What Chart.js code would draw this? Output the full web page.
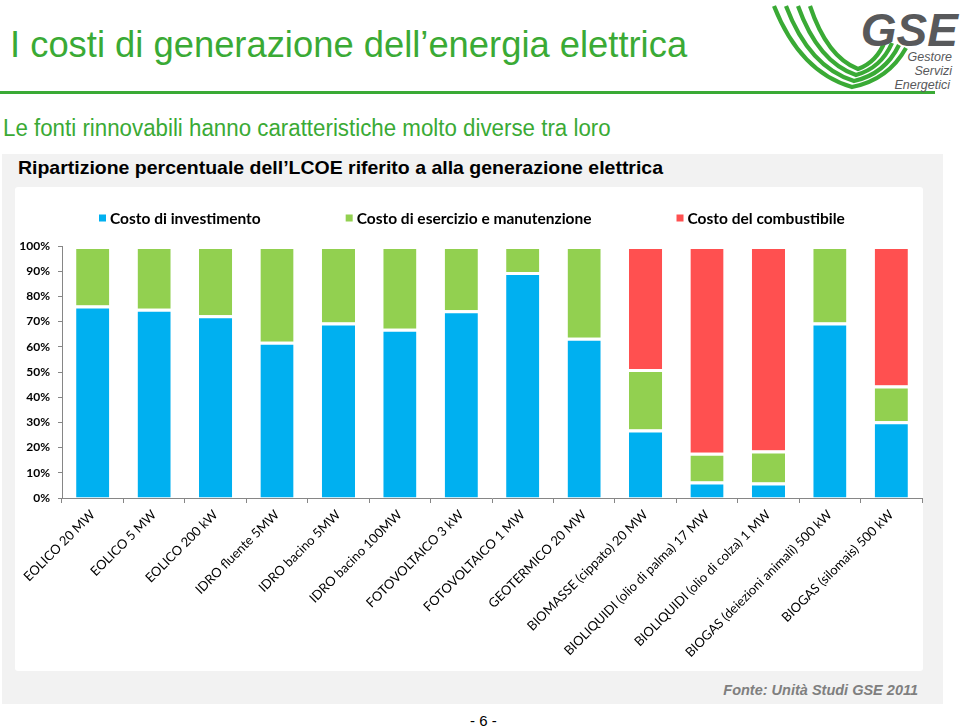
<!DOCTYPE html>
<html>
<head>
<meta charset="utf-8">
<script src="https://cdn.jsdelivr.net/npm/chart.js@4/dist/chart.umd.min.js"></script>
<style>
  html, body { margin: 0; padding: 0; background: #fff; width: 960px; height: 726px; overflow: hidden; position: relative; font-family: "Liberation Sans", Arial, sans-serif; }
  .abs { position: absolute; white-space: nowrap; line-height: 1; transform-origin: 0 0; }
  #title { left: 10px; top: 27px; font-size: 36px; color: #3aaa35; transform: scaleX(1.01); }
  #rule { left: 0; top: 91px; width: 935px; height: 3px; background: #3aaa35; }
  #sub { left: 3px; top: 117px; font-size: 23px; color: #3aaa35; transform: scaleX(0.97); }
  #panel { left: 2px; top: 154px; width: 941px; height: 550px; background: #f2f2f2; }
  #head { left: 18px; top: 158px; font-size: 19px; font-weight: bold; color: #000; transform: scaleX(1.025); }
  #white { left: 15px; top: 187px; width: 908px; height: 484px; background: #fff; border-radius: 3px; }
  #wrap { left: 15px; top: 187px; width: 908px; height: 484px; }
  #fonte { right: 42px; top: 683px; font-size: 14.5px; font-weight: bold; font-style: italic; color: #7f7f7f; }
  #page { left: 470px; top: 713px; font-size: 15px; color: #000; }
  #logo { left: 760px; top: 0; width: 200px; height: 100px; }
</style>
</head>
<body>
<div class="abs" id="title">I costi di generazione dell’energia elettrica</div>
<div class="abs" id="rule"></div>
<svg class="abs" id="logo" viewBox="0 0 200 100" xmlns="http://www.w3.org/2000/svg">
  <g fill="none" stroke="#3aaa35" stroke-width="4.2" stroke-linecap="butt">
    <path d="M14 6 Q 40 72 92 87 Q 128 80 146 48"/>
    <path d="M26 6 Q 49 67 94 81 Q 125 74 139 45"/>
    <path d="M38 6 Q 58 62 96 75 Q 121 68 132 43"/>
    <path d="M50 6 Q 67 57 98 69 Q 117 62 125 41"/>
  </g>
  <text x="198" y="46" text-anchor="end" font-family="Liberation Sans, Arial" font-weight="bold" font-style="italic" font-size="46" fill="#58595b">GSE</text>
  <text x="192" y="61" text-anchor="end" font-family="Liberation Sans, Arial" font-style="italic" font-size="12.5" fill="#58595b">Gestore</text>
  <text x="192" y="75" text-anchor="end" font-family="Liberation Sans, Arial" font-style="italic" font-size="12.5" fill="#58595b">Servizi</text>
  <text x="190" y="89" text-anchor="end" font-family="Liberation Sans, Arial" font-style="italic" font-size="12.5" fill="#58595b">Energetici</text>
</svg>
<div class="abs" id="sub">Le fonti rinnovabili hanno caratteristiche molto diverse tra loro</div>
<div class="abs" id="panel"></div>
<div class="abs" id="head">Ripartizione percentuale dell’LCOE riferito a alla generazione elettrica</div>
<div class="abs" id="white"></div>
<div class="abs" id="wrap"><canvas id="c" width="908" height="484"></canvas></div>
<div class="abs" id="fonte">Fonte: Unità Studi GSE 2011</div>
<div class="abs" id="page">- 6 -</div>
<script>
const categories = [
  "EOLICO 20 MW", "EOLICO 5 MW", "EOLICO 200 kW", "IDRO fluente 5MW", "IDRO bacino 5MW",
  "IDRO bacino 100MW", "FOTOVOLTAICO 3 kW", "FOTOVOLTAICO 1 MW", "GEOTERMICO 20 MW",
  "BIOMASSE (cippato) 20 MW", "BIOLIQUIDI (olio di palma) 17 MW", "BIOLIQUIDI (olio di colza) 1 MW",
  "BIOGAS (deiezioni animali) 500 kW", "BIOGAS (silomais) 500 kW"
];
const seriesNames = ["Costo di investimento", "Costo di esercizio e manutenzione", "Costo del combustibile"];
const investimento = [76.4, 75.1, 72.5, 62.0, 69.6, 67.2, 74.5, 89.7, 63.6, 27.2, 6.5, 6.2, 69.6, 30.5];
const esercizio    = [23.6, 24.9, 27.5, 38.0, 30.4, 32.8, 25.5, 10.3, 36.4, 24.0, 11.5, 12.6, 30.4, 14.1];
const combustibile = [0, 0, 0, 0, 0, 0, 0, 0, 0, 48.8, 82.0, 81.2, 0, 55.4];
const yTicks = [0, 10, 20, 30, 40, 50, 60, 70, 80, 90, 100];
const colors = ["#00b0f0", "#92d050", "#ff5050"];

const legendPlugin = {
  id: "customLegend",
  afterDraw(chart) {
    const ctx = chart.ctx;
    ctx.save();
    ctx.font = "bold 15.5px Lato, 'Open Sans', sans-serif";
    ctx.textBaseline = "middle";
    const box = 7, gapBox = 4, gapItem = 85;
    const items = chart.data.datasets.map(d => ({ t: d.label, c: d.backgroundColor, w: box + gapBox + ctx.measureText(d.label).width }));
    let x = 84;
    const y = 31;
    items.forEach(it => {
      ctx.fillStyle = it.c;
      ctx.fillRect(x, y - box / 2, box, box);
      ctx.fillStyle = "#000";
      ctx.fillText(it.t, x + box + gapBox, y + 1);
      x += it.w + gapItem;
    });
    ctx.restore();
  }
};

const mk = (i, data) => ({
  label: seriesNames[i], data, backgroundColor: colors[i],
  borderColor: "#ffffff", borderWidth: { top: 3, bottom: 0, left: 0, right: 0 }, borderSkipped: false,
  categoryPercentage: 1, barPercentage: 0.54
});

new Chart(document.getElementById("c"), {
  type: "bar",
  data: { labels: categories, datasets: [mk(0, investimento), mk(1, esercizio), mk(2, combustibile)] },
  options: {
    responsive: false, animation: false,
    layout: { padding: { top: 59, left: 0, right: 1, bottom: 0 } },
    plugins: { legend: { display: false }, tooltip: { enabled: false } },
    scales: {
      x: {
        stacked: true,
        grid: { display: true, drawOnChartArea: false, drawTicks: true, tickLength: 5, color: "#868686", offset: true },
        border: { display: true, color: "#868686", width: 1 },
        ticks: { autoSkip: false, minRotation: 45, maxRotation: 45, color: "#000", padding: 4, font: { family: "Lato, 'Open Sans', sans-serif", size: 13 } },
        afterFit(s) { s.height = 173; s.paddingLeft = 0; s.paddingRight = 0; }
      },
      y: {
        stacked: true, min: 0, max: 100,
        afterBuildTicks(s) { s.ticks = yTicks.map(v => ({ value: v })); },
        grid: { display: true, drawOnChartArea: false, drawTicks: true, tickLength: 4, color: "#868686" },
        border: { display: true, color: "#868686", width: 1 },
        ticks: { color: "#000", padding: 8, font: { family: "Lato, 'Open Sans', sans-serif", size: 12, weight: "bold" }, callback: v => v + "%" },
        afterFit(s) { s.width = 47; }
      }
    }
  },
  plugins: [legendPlugin]
});
</script>
</body>
</html>
